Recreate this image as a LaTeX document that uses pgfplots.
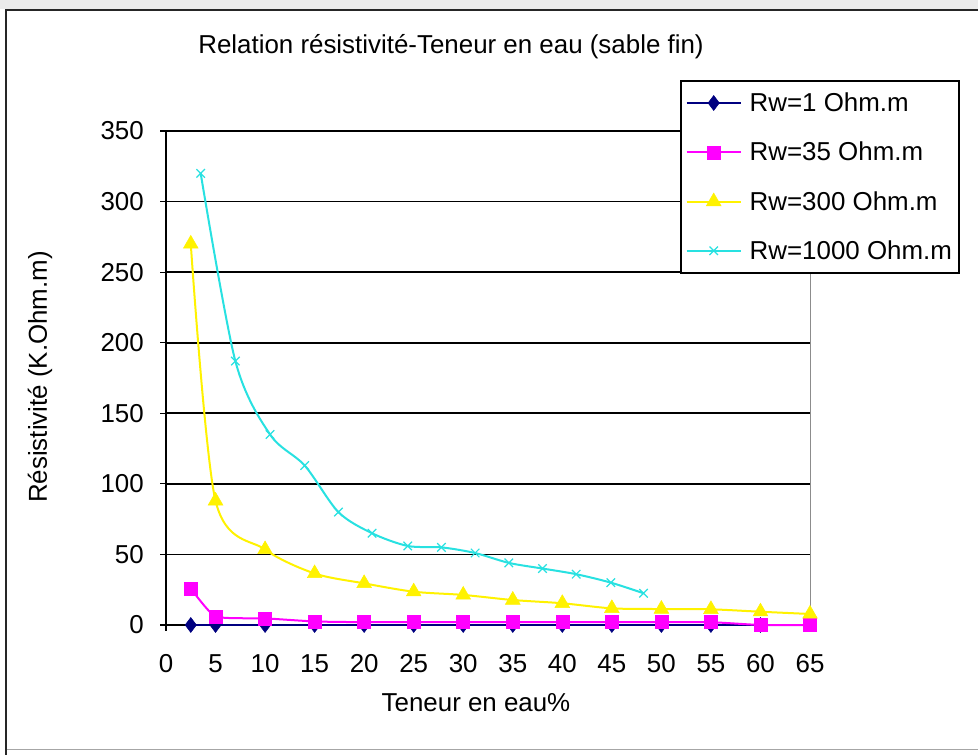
\documentclass[border=0pt]{standalone}
\usepackage{pgfplots}
\pgfplotsset{compat=1.18}
\usepackage{fontspec}
\setmainfont{Liberation Sans}
\newcommand\chartfont{\fontsize{26}{30}\selectfont}
\definecolor{rwnavy}{RGB}{0,0,128}
\definecolor{rwmagenta}{RGB}{255,0,255}
\definecolor{rwyellow}{RGB}{255,242,0}
\definecolor{rwcyan}{RGB}{40,225,225}
\begin{document}
\begin{tikzpicture}
\useasboundingbox (0bp,0bp) rectangle (978bp,755bp);
% window frame
\fill[white] (0bp,0bp) rectangle (978bp,755bp);
\fill[black!8] (0bp,746bp) rectangle (978bp,755bp);
\draw[black!35, line width=1bp] (6bp,5bp) -- (978bp,5bp);
\draw[black!85, line width=2bp] (6bp,0bp) -- (6bp,745bp) -- (978bp,745bp);

\begin{axis}[
  at={(166bp,130bp)}, anchor=south west,
  scale only axis, width=644bp, height=494bp,
  xmin=0, xmax=65, ymin=0, ymax=350,
  axis lines=left,
  axis line style={-, black, line width=1.6bp},
  xtick={0,5,...,65}, ytick={0,50,...,350},
  ymajorgrids, major grid style={black, line width=1.6bp},
  tick align=outside, major tick length=6bp,
  tick style={black, line width=1.2bp},
  ticklabel style={font=\chartfont},
  /pgf/number format/assume math mode=true,
  yticklabel style={inner sep=0pt, xshift=-16bp},
  xticklabel style={inner sep=0pt, yshift=-23bp},
  clip=false,
  legend style={at={(0.798,1.103)}, anchor=north west, draw=black,
    line width=1.6bp, fill=white, font=\chartfont,
    inner xsep=5bp, inner ysep=10bp, row sep=25bp, column sep=6bp,
    legend cell align=left},
  legend image code/.code={%
    \draw[mark repeat=2, mark phase=2, #1]
      plot coordinates {(0bp,0bp) (27bp,0bp) (54bp,0bp)};},
]
\draw[black!45, line width=1bp] (axis cs:65,0) -- (axis cs:65,350);

% Rw = 1 Ohm.m
\addplot[rwnavy, line width=2bp, mark=diamond*, mark size=7.5bp,
  mark options={solid, line width=0.5bp}] coordinates {
  (2.5,0) (5,0) (10,0) (15,0) (20,0) (25,0) (30,0) (35,0)
  (40,0) (45,0) (50,0) (55,0) (60,0)};
% Rw = 35 Ohm.m
\addplot[rwmagenta, line width=2bp, smooth, tension=0.3, mark=square*, mark size=6.5bp,
  mark options={solid, line width=0.5bp}] coordinates {
  (2.5,26) (5,6) (10,4.7) (15,2.5) (20,2) (25,2) (30,2) (35,2)
  (40,2) (45,2) (50,2) (55,2) (60,0) (65,0)};
% Rw = 300 Ohm.m
\addplot[rwyellow, line width=2bp, smooth, mark=triangle*, mark size=8.5bp,
  mark options={solid, line width=0.5bp}] coordinates {
  (2.5,270) (5,88) (10,53.5) (15,36.5) (20,29.5) (25,23.6) (30,21.3)
  (35,17.7) (40,15.4) (45,11.8) (50,11.3) (55,11.1) (60,9.4) (65,7.8)};
% Rw = 1000 Ohm.m
\addplot[rwcyan, line width=2bp, smooth, mark=x, mark size=6bp,
  mark options={solid, line width=1.2bp}] coordinates {
  (3.5,320) (7,187) (10.5,135) (14,113) (17.4,80) (20.8,65) (24.4,56)
  (27.8,55) (31.2,51) (34.6,44) (38,40) (41.4,36) (44.9,30) (48.2,22.5)};
\legend{Rw=1 Ohm.m, Rw=35 Ohm.m, Rw=300 Ohm.m, Rw=1000 Ohm.m}
\end{axis}

\node[font=\chartfont] at (451bp,708bp) {Relation résistivité-Teneur en eau (sable fin)};
\node[font=\chartfont] at (476bp,52bp) {Teneur en eau\%};
\node[font=\chartfont, rotate=90] at (40bp,378bp) {Résistivité (K.Ohm.m)};
\end{tikzpicture}
\end{document}
